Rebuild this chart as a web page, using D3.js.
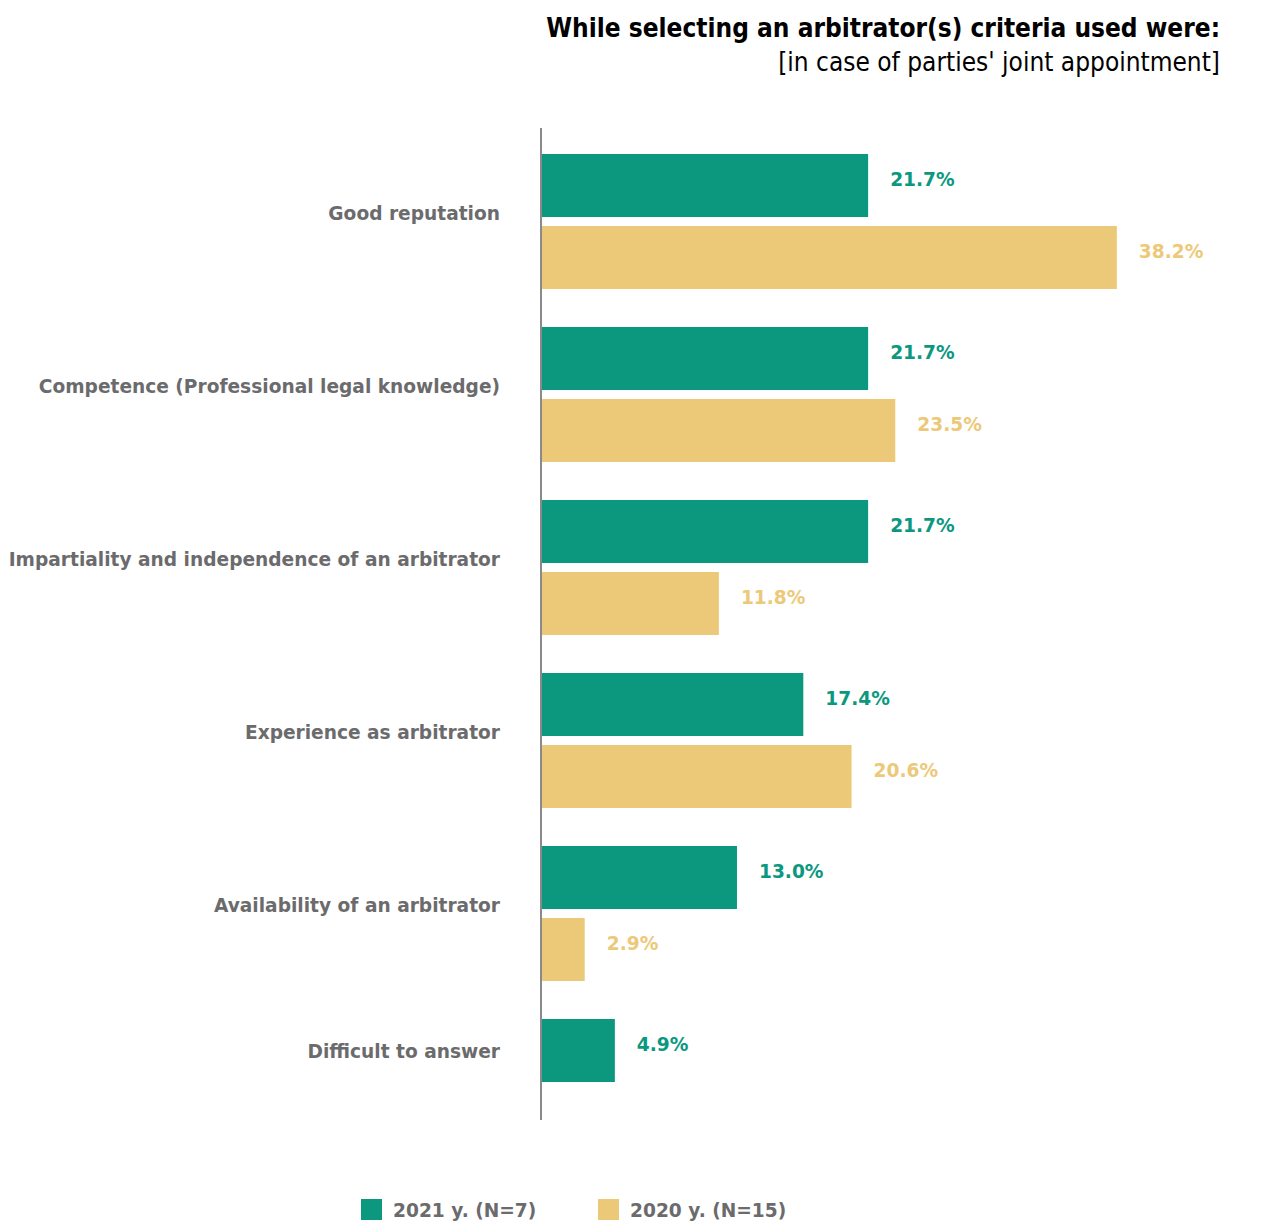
<!DOCTYPE html>
<html>
<head>
<meta charset="utf-8">
<script src="https://cdn.jsdelivr.net/npm/d3@7"></script>
<style>
  html, body { margin: 0; padding: 0; background: #ffffff; }
  svg { display: block; }
</style>
</head>
<body>
<svg id="chart" width="1271" height="1221"></svg>
<script>
// Criteria and shares of respondents per survey year
const categories = [
  "Good reputation",
  "Competence (Professional legal knowledge)",
  "Impartiality and independence of an arbitrator",
  "Experience as arbitrator",
  "Availability of an arbitrator",
  "Difficult to answer"
];
const seriesNames = ["2021 y. (N=7)", "2020 y. (N=15)"];
const values2021 = [21.7, 21.7, 21.7, 17.4, 13.0, 4.9];
const values2020 = [38.2, 23.5, 11.8, 20.6, 2.9, null];
const seriesColors = ["#0b987f", "#ecc979"];

const titleText = "While selecting an arbitrator(s) criteria used were:";
const subtitleText = "[in case of parties' joint appointment]";

const svg = d3.select("#chart");
const bodyFont = "'DejaVu Sans', sans-serif";
const titleFont = "'DejaVu Sans Condensed', 'DejaVu Sans', sans-serif";
const labelSize = "18.6px";
const labelGray = "#6b6b6d";

const axisX = 541;
const x = d3.scaleLinear().domain([0, 40]).range([axisX, axisX + 603]);

const y = d3.scaleBand()
  .domain(categories)
  .range([154, 1154])
  .paddingInner(38 / 173)
  .paddingOuter(0);

const yInner = d3.scaleBand()
  .domain(seriesNames)
  .range([0, y.bandwidth()])
  .paddingInner(0.125);

const seriesValues = [values2021, values2020];

// Title block, right aligned
svg.append("text")
  .attr("x", 1220).attr("y", 37)
  .attr("text-anchor", "end")
  .style("font-family", titleFont)
  .style("font-weight", "bold")
  .style("font-size", "26px")
  .attr("fill", "#000")
  .text(titleText);

svg.append("text")
  .attr("x", 1220).attr("y", 71)
  .attr("text-anchor", "end")
  .style("font-family", titleFont)
  .style("font-size", "26px")
  .attr("fill", "#000")
  .text(subtitleText);

// Bars and value labels per series
seriesNames.forEach((name, si) => {
  const rows = categories
    .map((c, i) => ({ c, v: seriesValues[si][i] }))
    .filter(d => d.v != null);

  svg.append("g").selectAll("rect")
    .data(rows)
    .join("rect")
    .attr("x", x(0))
    .attr("y", d => y(d.c) + yInner(name))
    .attr("width", d => x(d.v) - x(0))
    .attr("height", yInner.bandwidth())
    .attr("fill", seriesColors[si]);

  svg.append("g").selectAll("text")
    .data(rows)
    .join("text")
    .attr("x", d => x(d.v) + 22)
    .attr("y", d => y(d.c) + yInner(name) + yInner.bandwidth() / 2 - 6)
    .attr("dominant-baseline", "central")
    .style("font-family", bodyFont)
    .style("font-weight", "bold")
    .style("font-size", labelSize)
    .attr("fill", seriesColors[si])
    .text(d => d.v.toFixed(1) + "%");
});

// Category labels
svg.append("g").selectAll("text")
  .data(categories)
  .join("text")
  .attr("x", 500)
  .attr("y", (d, i) => {
    const single = values2020[i] == null;
    if (single) return y(d) + yInner(seriesNames[0]) + yInner.bandwidth() / 2 + 1;
    return y(d) + y.bandwidth() / 2 - 8;
  })
  .attr("text-anchor", "end")
  .attr("dominant-baseline", "central")
  .style("font-family", bodyFont)
  .style("font-weight", "bold")
  .style("font-size", labelSize)
  .attr("fill", labelGray)
  .text(d => d);

// Vertical baseline
svg.append("line")
  .attr("x1", axisX).attr("x2", axisX)
  .attr("y1", 128).attr("y2", 1120)
  .attr("stroke", "#8a8a8a")
  .attr("stroke-width", 2);

// Legend
const legendX = [361, 598];
const legend = svg.append("g").selectAll("g")
  .data(seriesNames)
  .join("g")
  .attr("transform", (d, i) => `translate(${legendX[i]},1199)`);

legend.append("rect")
  .attr("width", 21).attr("height", 21)
  .attr("fill", (d, i) => seriesColors[i]);

legend.append("text")
  .attr("x", 32).attr("y", 11)
  .attr("dominant-baseline", "central")
  .style("font-family", bodyFont)
  .style("font-weight", "bold")
  .style("font-size", labelSize)
  .attr("fill", labelGray)
  .text(d => d);
</script>
</body>
</html>
